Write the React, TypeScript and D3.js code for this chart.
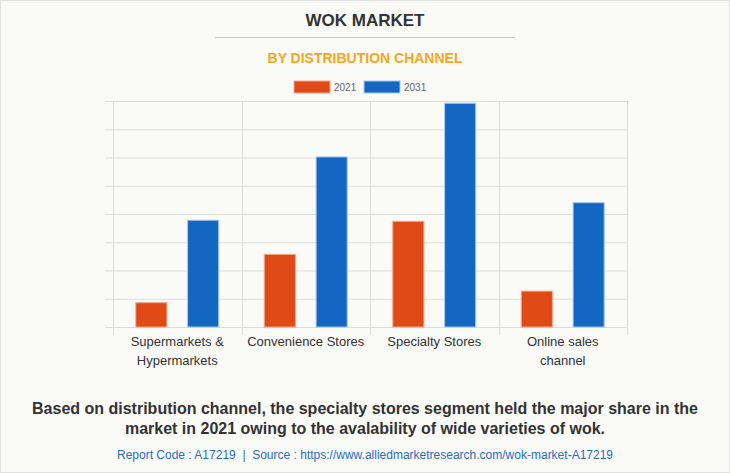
import React from "react";
import * as d3 from "d3";

const categories = ["Supermarkets & Hypermarkets", "Convenience Stores", "Specialty Stores", "Online sales channel"];
const categoryLines = [["Supermarkets &", "Hypermarkets"], ["Convenience Stores"], ["Specialty Stores"], ["Online sales", "channel"]];
const seriesNames = ["2021", "2031"];
const values2021 = [86, 257, 374, 127];
const values2031 = [378, 602, 792, 440];
const yTicks = [0, 100, 200, 300, 400, 500, 600, 700, 800];

const W = 730, H = 473;
const colors = ["#e04a16", "#1366c1"];
const strokes = ["#f2a58a", "#a9c7ec"];

export default function App() {
  const left = 113, right = 627, top = 101, bottom = 327;
  const x0 = d3.scaleBand<string>().domain(categories).range([left, right]).paddingInner(0).paddingOuter(0);
  const x1 = d3.scaleBand<string>().domain(seriesNames).range([0, x0.bandwidth()]).paddingInner(0.4).paddingOuter(0.44);
  const y = d3.scaleLinear().domain([0, 800]).range([bottom, top]);
  const series = [values2021, values2031];
  const font = "Arial, 'Liberation Sans', Helvetica, sans-serif";

  return (
    <svg width={W} height={H} style={{ position: "absolute", left: 0, top: 0, fontFamily: font }}>
      <rect x={0.5} y={0.5} width={W - 1} height={H - 1} fill="#fafaf6" stroke="#e2e2e2" />
      <text x={365} y={26} textAnchor="middle" fontSize={17} fontWeight="bold" fill="#333">WOK MARKET</text>
      <line x1={215} x2={515} y1={37.5} y2={37.5} stroke="#c8c8c8" />
      <text x={365} y={63} textAnchor="middle" fontSize={14} fontWeight="bold" fill="#f5a623">BY DISTRIBUTION CHANNEL</text>
      {seriesNames.map((s, i) => (
        <g key={s} transform={`translate(${294 + i * 70},81)`}>
          <rect x={0} y={0} width={36} height={12} fill={colors[i]} stroke={strokes[i]} />
          <text x={40} y={10} fontSize={10} fill="#666">{s}</text>
        </g>
      ))}
      {yTicks.map(t => (
        <line key={t} x1={105} x2={right} y1={y(t) + 0.5} y2={y(t) + 0.5} stroke="#dcdcd8" />
      ))}
      {[...categories.map(c => x0(c)!), right].map((xv, i) => (
        <line key={i} x1={Math.round(xv) + 0.5} x2={Math.round(xv) + 0.5} y1={top} y2={335} stroke="#dcdcd8" />
      ))}
      {categories.map((c, ci) => (
        <g key={c}>
          {seriesNames.map((s, si) => {
            const v = series[si][ci];
            return (
              <rect key={s} x={x0(c)! + x1(s)!} y={y(v)} width={x1.bandwidth()} height={bottom - y(v)}
                fill={colors[si]} stroke={strokes[si]} strokeWidth={1} />
            );
          })}
          <text textAnchor="middle" fontSize={13} fill="#333">
            {categoryLines[ci].map((l, li) => (
              <tspan key={li} x={x0(c)! + x0.bandwidth() / 2} y={346 + li * 19}>{l}</tspan>
            ))}
          </text>
        </g>
      ))}
      <text textAnchor="middle" fontSize={16} fontWeight="bold" fill="#333">
        <tspan x={365} y={414}>Based on distribution channel, the specialty stores segment held the major share in the</tspan>
        <tspan x={365} y={434}>market in 2021 owing to the avalability of wide varieties of wok.</tspan>
      </text>
      <text x={365} y={459} textAnchor="middle" fontSize={12} fill="#2a6ebb">{"Report Code : A17219 \u00a0|\u00a0 Source : https://www.alliedmarketresearch.com/wok-market-A17219"}</text>
    </svg>
  );
}
